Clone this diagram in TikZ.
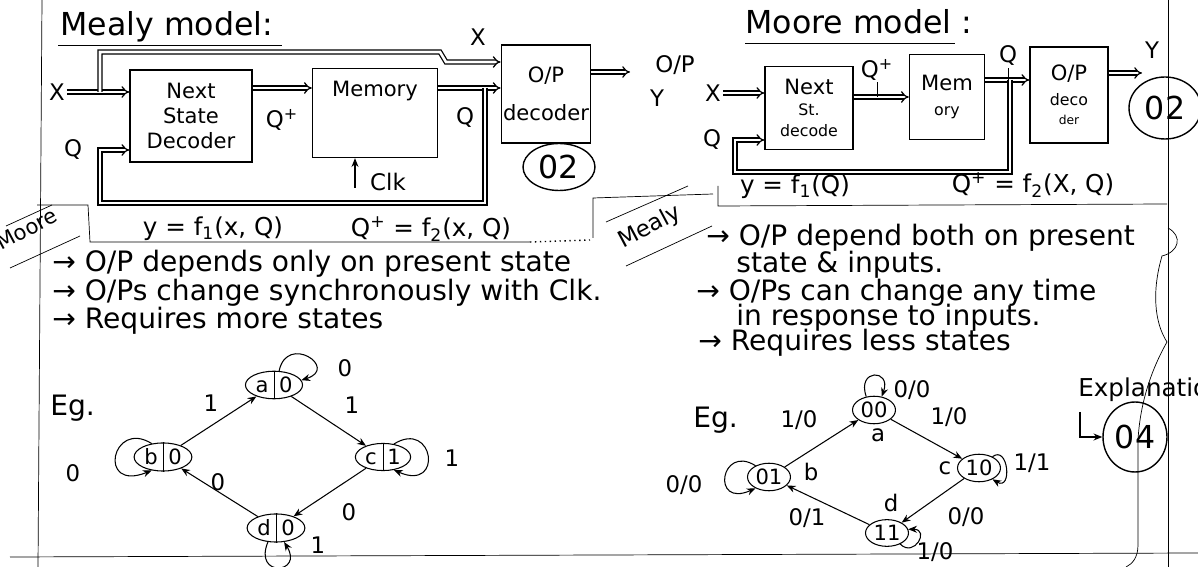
\documentclass[tikz,border=0pt]{standalone}
\usepackage{fontspec}
\setmainfont{DejaVu Sans}
\usepackage{tikz}
\usetikzlibrary{arrows.meta, positioning, shapes.geometric}

\begin{document}
\begin{tikzpicture}[x=0.02cm, y=-0.02cm,
    block/.style={rectangle, draw, thick, align=center, inner sep=1pt,
                  font=\fontsize{12}{14}\selectfont},
    bus/.style={draw, line width=0.7pt, double, double distance=1.5pt},
    busarrow/.style={bus, -{Implies}},
    arrow/.style={-{Stealth[length=5pt, width=4pt]}, semithick},
    state/.style={ellipse, draw, semithick, minimum width=0.86cm, minimum height=0.5cm,
                  inner sep=1pt, font=\fontsize{12}{14}\selectfont},
    lbl/.style={inner sep=1pt, font=\fontsize{13}{15}\selectfont},
    note/.style={anchor=west, inner sep=0pt, font=\fontsize{16}{19}\selectfont},
    formula/.style={inner sep=1pt, font=\fontsize{14}{16}\selectfont},
    tag/.style={ellipse, draw, thick, inner sep=1pt, font=\fontsize{18}{20}\selectfont}
]
\useasboundingbox (0,0) rectangle (1198,567);

% page margins
\draw[thin] (42,0) -- (38,567);
\draw[thin] (1168,0) -- (1168,567);
\draw[thin] (10,557) -- (1198,553);

% ---------------- Mealy model ----------------
\node (mealyt) [anchor=west, inner sep=0pt, font=\fontsize{18}{20}\selectfont] at (60,27) {Mealy model:};
\draw (58,45) -- (282,45);
\node (nsd) [block, minimum width=2.44cm, minimum height=1.84cm] at (191,116) {Next\\State\\Decoder};
\node (mem) [block, minimum width=2.5cm, minimum height=1.78cm] at (375,113) {Memory\\[14pt]};
\node (opd) [block, minimum width=1.76cm, minimum height=1.96cm] at (546,94) {O/P\\[8pt]decoder};
\node (xa) [lbl] at (57,92) {X};
\node (qa) [lbl] at (73,150) {Q};
\node (xb) [lbl] at (478,37) {X};
\node (qpa) [lbl] at (282,120) {Q\textsuperscript{+}};
\node (qb) [lbl] at (465,118) {Q};
\node (clka) [lbl] at (388,182) {Clk};
\node (opa) [lbl] at (675,65) {O/P};
\node (ya) [lbl] at (657,98) {Y};
\node (tga) [tag, minimum width=1.44cm, minimum height=0.94cm] at (559,167) {02};
\coordinate (xsplit) at (100,92);
\coordinate (qtap) at (485,88);
\coordinate (yout) at (630,72);
\coordinate (clkin) at (355,188);
\draw[busarrow] (xa.east) -- (nsd.west |- xa.east);
\draw[busarrow] (xsplit) -- (100,52) -- (440,52) -- (446,62) -- (opd.west |- 0,62);
\draw[busarrow] (nsd.east |- qtap) -- (mem.west |- qtap);
\draw[busarrow] (mem.east |- qtap) -- (opd.west |- qtap);
\draw[busarrow] (qtap) -- (485,203) -- (100,203) -- (100,150) -- (nsd.west |- qa);
\draw[busarrow] (opd.east |- yout) -- (yout);
\draw[arrow] (clkin) -- (clkin |- mem.south);

% ---------------- Moore model ----------------
\node (mooret) [anchor=west, inner sep=0pt, font=\fontsize{18}{20}\selectfont] at (745,22) {Moore model :};
\draw (745,43) -- (955,43);
\node (nsd2) [block, minimum width=1.76cm, minimum height=1.66cm] at (809,108)
    {Next\\[-2pt]{\fontsize{9}{11}\selectfont St.}\\[-2pt]{\fontsize{9}{11}\selectfont decode}};
\node (mem2) [block, minimum width=1.5cm, minimum height=1.7cm] at (947,97)
    {Mem\\{\fontsize{9}{11}\selectfont ory}};
\node (opd2) [block, minimum width=1.56cm, minimum height=1.92cm] at (1069,95)
    {O/P\\{\fontsize{9}{11}\selectfont deco}\\[-3pt]{\fontsize{7}{8}\selectfont der}};
\node (xc) [lbl] at (713,93) {X};
\node (qc) [lbl] at (712,140) {Q};
\node (qpc) [lbl] at (877,70) {Q\textsuperscript{+}};
\node (qd) [lbl] at (1008,56) {Q};
\node (yc) [lbl] at (1152,50) {Y};
\node (tgc) [tag, minimum width=1.44cm, minimum height=1.24cm] at (1165,108) {02};
\coordinate (qtap2) at (1010,80);
\coordinate (yout2) at (1142,73);
\draw[busarrow] (xc.east) -- (nsd2.west |- xc.east);
\draw[busarrow] (nsd2.east |- 0,97) -- (mem2.west |- 0,97);
\draw[busarrow] (mem2.east |- qtap2) -- (opd2.west |- qtap2);
\draw[busarrow] (qtap2) -- (1010,172) -- (735,172) -- (735,140) -- (nsd2.west |- qc);
\draw[busarrow] (opd2.east |- yout2) -- (yout2);
\draw (qpc.south) -- (qpc.south |- 0,97);
\draw (qd.south) -- (qd.south |- qtap2);

% ---------------- equations ----------------
\node (f1a) [formula] at (213,229) {y = f\textsubscript{1}(x, Q)};
\node (f2a) [formula] at (431,229) {Q\textsuperscript{+} = f\textsubscript{2}(x, Q)};
\node (f1c) [formula] at (795,187) {y = f\textsubscript{1}(Q)};
\node (f2c) [formula] at (1033,185) {Q\textsuperscript{+} = f\textsubscript{2}(X, Q)};

% tab round the Moore heading
\draw (37,205) -- (88,205) -- (90,242) -- (530,242);
\draw[dotted, thick] (530,242) -- (590,240);
\draw (6,226) -- (52,205);
\draw (10,268) -- (80,236);
\node (moorel) [rotate=28, inner sep=0pt, font=\fontsize{12}{14}\selectfont] at (27,229) {Moore};

% tab round the Mealy heading
\draw (593,238) -- (593,198) -- (713,194);
\draw (718,186) -- (718,206) -- (1167,204);
\draw (606,222) -- (688,186);
\draw (626,266) -- (712,226);
\node (mealyl) [rotate=28, inner sep=0pt, font=\fontsize{13}{15}\selectfont] at (650,227) {Mealy};

% ---------------- notes ----------------
\node (n1) [note] at (52,264) {→ O/P depends only on present state};
\node (n2) [note] at (52,293) {→ O/Ps change synchronously with Clk.};
\node (n3) [note] at (52,321) {→ Requires more states};
\node (eg1) [note] at (50,408) {Eg.};
\node (n4) [note] at (706,238) {→ O/P depend both on present};
\node (n5) [note] at (736,265) {state \& inputs.};
\node (n6) [note] at (696,293) {→ O/Ps can change any time};
\node (n7) [note] at (736,318) {in response to inputs.};
\node (n8) [note] at (698,343) {→ Requires less states};
\node (eg2) [note] at (693,420) {Eg.};

% brace and marks
\draw (1168,228) .. controls (1183,236) and (1179,252) .. (1162,256)
      .. controls (1152,290) and (1154,322) .. (1167,342)
      .. controls (1150,372) and (1140,405) .. (1138,440)
      -- (1138,545) .. controls (1138,558) and (1132,564) .. (1126,567);
\node (expl) [note, font=\fontsize{14}{16}\selectfont] at (1078,390) {Explanation};
\node (tg4) [tag, minimum width=1.28cm, minimum height=1.4cm] at (1135,437) {04};
\draw[arrow] (1080,412) |- (tg4.west);

% ---------------- Moore example ----------------
\node (sa) [state] at (274,385) {a\hspace{6pt}0};
\node (sb) [state] at (163,457) {b\hspace{6pt}0};
\node (sc) [state] at (383,457) {c\hspace{6pt}1};
\node (sd) [state] at (276,528) {d\hspace{6pt}0};
\foreach \s in {sa, sb, sc, sd}
    \draw (\s.north) -- (\s.south);
\draw[arrow] (sb) -- (sa);
\draw[arrow] (sa) -- (sc);
\draw[arrow] (sc) -- (sd);
\draw[arrow] (sd) -- (sb);
\draw[arrow] (sa.70) .. controls +(8,-38) and +(38,-12) .. (sa.10);
\draw[arrow] (sb.130) .. controls +(-40,-25) and +(-55,22) .. (sb.230);
\draw[arrow] (sc.50) .. controls +(40,-25) and +(50,22) .. (sc.310);
\draw[arrow] (sd.240) .. controls +(-15,36) and +(20,32) .. (sd.300);
\node (la1) [lbl] at (211,403) {1};
\node (la2) [lbl] at (345,368) {0};
\node (la3) [lbl] at (352,405) {1};
\node (la4) [lbl] at (73,473) {0};
\node (la5) [lbl] at (452,458) {1};
\node (la6) [lbl] at (218,482) {0};
\node (la7) [lbl] at (349,512) {0};
\node (la8) [lbl] at (318,545) {1};

% ---------------- Mealy example ----------------
\node (s00) [state] at (874,410) {00};
\node (s01) [state] at (769,477) {01};
\node (s10) [state] at (979,468) {10};
\node (s11) [state] at (887,533) {11};
\draw[arrow] (s01) -- (s00);
\draw[arrow] (s00) -- (s10);
\draw[arrow] (s10) -- (s11);
\draw[arrow] (s11) -- (s01);
\draw[arrow] (s00.120) .. controls +(-10,-28) and +(10,-28) .. (s00.60);
\draw[arrow] (s01.140) .. controls +(-35,-22) and +(-45,20) .. (s01.220);
\draw[arrow] (s10.40) .. controls +(16,-12) and +(20,12) .. (s10.320);
\draw[arrow] (s11.320) .. controls +(14,14) and +(22,0) .. (s11.10);
\node (ma) [lbl] at (878,435) {a};
\node (mb) [lbl] at (811,472) {b};
\node (mc) [lbl] at (945,468) {c};
\node (md) [lbl] at (891,503) {d};
\node (lb1) [lbl] at (912,390) {0/0};
\node (lb2) [lbl] at (799,420) {1/0};
\node (lb3) [lbl] at (949,417) {1/0};
\node (lb4) [lbl] at (684,485) {0/0};
\node (lb5) [lbl] at (1032,463) {1/1};
\node (lb6) [lbl] at (807,518) {0/1};
\node (lb7) [lbl] at (966,517) {0/0};
\node (lb8) [lbl] at (935,552) {1/0};
\end{tikzpicture}
\end{document}
